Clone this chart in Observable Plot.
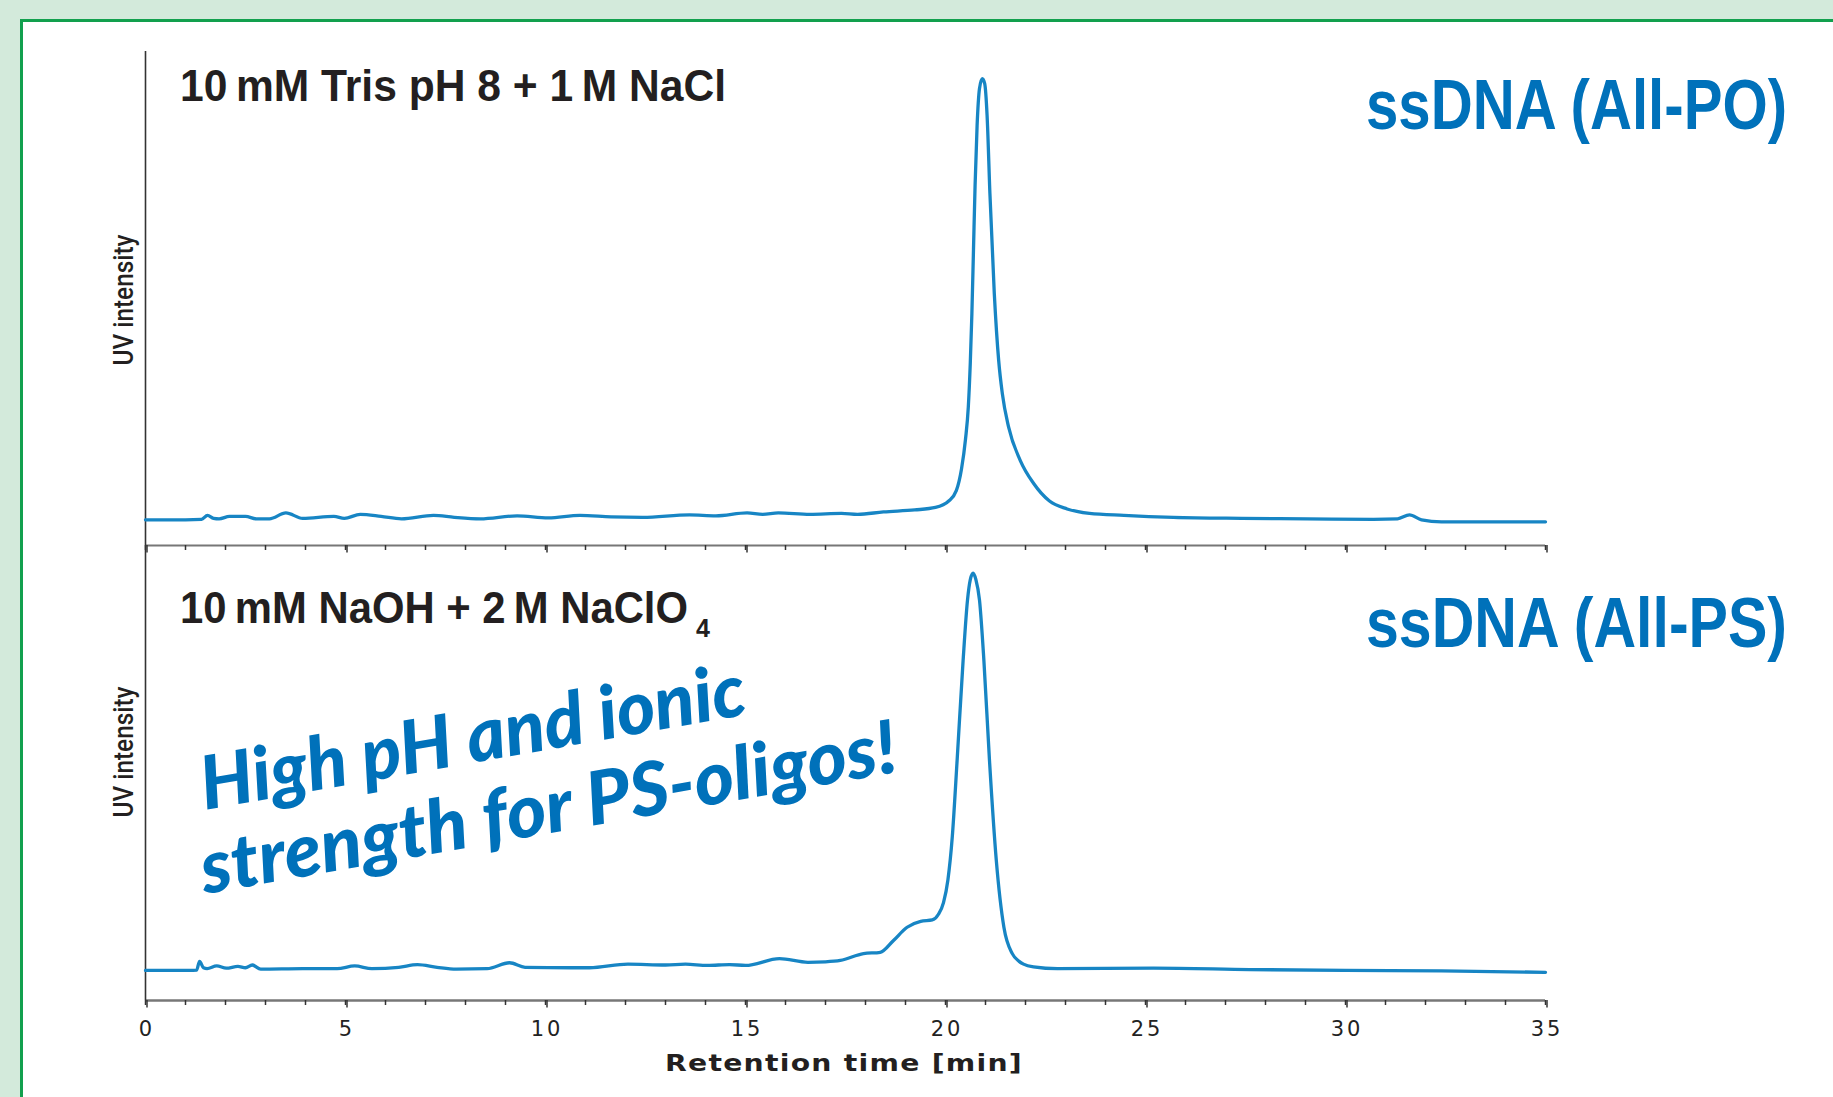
<!DOCTYPE html>
<html><head><meta charset="utf-8">
<script src="https://cdn.jsdelivr.net/npm/d3@7"></script>
<script src="https://cdn.jsdelivr.net/npm/@observablehq/plot@0.6"></script>
<style>
html,body{margin:0;padding:0;background:#d3eadb;}
#page{position:relative;width:1833px;height:1097px;overflow:hidden;background:#d3eadb;}
#panel{position:absolute;left:20px;top:19px;width:1850px;height:1120px;background:#fff;border:3px solid #12a04e;box-sizing:border-box;}
.layer{position:absolute;left:0;top:0;}
g[aria-label="x-axis tick label"] text{letter-spacing:3px;}
</style></head><body>
<div id="page"><div id="panel"></div></div>
<script>
// ---- data (retention time in min, UV signal in arbitrary units) ----
const topTime = [0, 1.0, 1.4, 1.55, 1.7, 1.84, 2.1, 2.5, 2.77, 3.1, 3.51, 3.93, 4.71, 4.97, 5.37, 5.89, 6.4, 7.2, 7.72, 8.37, 9.29, 10.07, 10.86, 11.64, 12.43, 13.6, 14.26, 15.04, 15.43, 15.82, 16.61, 17.4, 17.8, 18.45, 19.23, 19.75, 20.08, 20.27, 20.4, 20.5, 20.57, 20.62, 20.66, 20.7, 20.74, 20.79, 20.85, 20.92, 20.98, 21.04, 21.11, 21.22, 21.33, 21.42, 21.58, 21.87, 22.2, 22.6, 23.04, 23.6, 24.46, 25.7, 27.4, 29.04, 30.7, 31.3, 31.6, 31.9, 32.4, 35];
const topSignal = [5.2, 5.2, 5.3, 6.1, 5.5, 5.4, 5.9, 5.9, 5.4, 5.4, 6.6, 5.5, 5.9, 5.5, 6.3, 5.9, 5.4, 6.1, 5.7, 5.4, 6.0, 5.6, 6.1, 5.8, 5.7, 6.2, 6.0, 6.6, 6.3, 6.6, 6.3, 6.5, 6.3, 6.8, 7.2, 7.7, 9.0, 11.1, 15.5, 21.5, 28, 37, 47, 60, 73, 85, 92.5, 94.5, 93.5, 87, 71.3, 51, 37.4, 30.8, 23.9, 17.2, 12.6, 9.0, 7.4, 6.5, 6.1, 5.7, 5.5, 5.4, 5.3, 5.4, 6.2, 5.2, 4.8, 4.8];

const bottomTime = [0, 1.1, 1.28, 1.35, 1.45, 1.54, 1.78, 2.02, 2.31, 2.5, 2.67, 2.88, 3.93, 4.79, 5.23, 5.66, 6.33, 6.8, 7.29, 7.77, 8.54, 9.1, 9.49, 10.64, 11.1, 12.06, 13.0, 13.5, 14.05, 14.6, 15.0, 15.85, 16.56, 17.0, 17.37, 17.95, 18.37, 18.7, 19.04, 19.38, 19.67, 19.82, 19.95, 20.06, 20.17, 20.29, 20.44, 20.55, 20.62, 20.69, 20.76, 20.85, 20.96, 21.1, 21.27, 21.46, 21.67, 21.84, 21.95, 22.2, 22.8, 25.2, 27.6, 30, 32.4, 35];
const bottomSignal = [6.6, 6.6, 6.7, 8.6, 7.2, 7.0, 7.6, 7.1, 7.5, 7.2, 7.8, 6.9, 7.0, 7.0, 7.6, 7.0, 7.3, 7.9, 7.3, 6.9, 7.0, 8.3, 7.3, 7.2, 7.2, 8.0, 7.8, 8.0, 7.7, 7.9, 7.7, 9.2, 8.4, 8.5, 8.8, 10.3, 10.6, 13.2, 16.1, 17.4, 17.7, 18.9, 21.5, 26.5, 36, 52.7, 74.7, 88, 92.5, 93.9, 92.5, 88, 74.7, 52.7, 30.8, 16.1, 10.3, 8.6, 8.0, 7.4, 7.0, 7.1, 6.8, 6.6, 6.5, 6.2];

const minorTicks = [0,1,2,3,4,5,6,7,8,9,10,11,12,13,14,15,16,17,18,19,20,21,22,23,24,25,26,27,28,29,30,31,32,33,34,35];
const majorTicks = [0,5,10,15,20,25,30,35];
const xLabel = "Retention time [min]";
const yLabel = "UV intensity";
const topTitle = "10\u2009mM Tris pH 8 + 1\u2009M NaCl";
const bottomTitle = "10\u2009mM NaOH + 2\u2009M NaClO";
const bottomTitleSub = "4";
const topTag = "ssDNA (All-PO)";
const bottomTag = "ssDNA (All-PS)";
const note = ["High pH and ionic", "strength for PS-oligos!"];

const LINE = "#1785c4";
const topData = topTime.map((t, i) => ({t, v: topSignal[i]}));
const bottomData = bottomTime.map((t, i) => ({t, v: bottomSignal[i]}));

function panel(data, opts) {
  return Plot.plot({
    width: 1833,
    height: opts.height,
    marginLeft: 145,
    marginRight: 288,
    marginTop: opts.marginTop,
    marginBottom: opts.marginBottom,
    style: {background: "transparent", overflow: "visible", fontFamily: "DejaVu Sans", color: "#222"},
    x: {domain: [0, 35]},
    y: {domain: [0, 100], axis: null},
    marks: [
      Plot.ruleY([0], {stroke: "#777", strokeWidth: opts.axisWidth}),
      Plot.ruleX([0], {stroke: "#333", strokeWidth: 1.6}),
      Plot.axisX({ticks: minorTicks, tickSize: 5, tickFormat: () => "", label: null, stroke: "#333", strokeWidth: 1.5}),
      Plot.axisX({ticks: majorTicks, tickSize: 7.5, stroke: "#333", strokeWidth: 1.5,
        tickFormat: opts.labels ? (d => String(d)) : (() => ""),
        tickPadding: 13, fontSize: 21, dx: 1.5, label: null}),
      Plot.line(data, {x: "t", y: "v", stroke: LINE, strokeWidth: 3.3, curve: "monotone-x"})
    ]
  });
}

const page = document.getElementById("page");
const topPlot = panel(topData, {height: 560, marginTop: 51, marginBottom: 15, axisWidth: 2, labels: false});
const bottomPlot = panel(bottomData, {height: 1097, marginTop: 545, marginBottom: 97, axisWidth: 2.6, labels: true});
topPlot.classList.add("layer");
bottomPlot.classList.add("layer");
page.appendChild(bottomPlot);
page.appendChild(topPlot);

// ---- annotation layer ----
const svg = d3.create("svg").attr("class", "layer").attr("width", 1833).attr("height", 1097)
  .style("overflow", "visible");
page.appendChild(svg.node());
function txt(s, x, y, o) {
  const t = svg.append("text").attr("x", x).attr("y", y).text(s)
    .attr("font-family", o.family || "Liberation Sans, Arial, sans-serif")
    .attr("font-size", o.size).attr("font-weight", o.weight || "normal")
    .attr("fill", o.fill || "#231f20");
  if (o.len) t.attr("textLength", o.len).attr("lengthAdjust", o.adjust || "spacingAndGlyphs");
  if (o.style) t.attr("font-style", o.style);
  if (o.transform) t.attr("transform", o.transform);
  if (o.anchor) t.attr("text-anchor", o.anchor);
  if (o.spacing) t.attr("letter-spacing", o.spacing);
  return t;
}
txt(topTitle, 180, 101, {size: 44, weight: "bold", len: 546});
// bottom title with chemical subscript in one text element
const bt = svg.append("text").attr("x", 180).attr("y", 623)
  .attr("font-family", "Liberation Sans, Arial, sans-serif").attr("font-weight", "bold")
  .attr("font-size", 44).attr("fill", "#231f20");
bt.append("tspan").attr("textLength", 508).attr("lengthAdjust", "spacingAndGlyphs").text(bottomTitle);
bt.append("tspan").attr("x", 696).attr("y", 637).attr("font-size", 25).text(bottomTitleSub);

const TAG_FONT = "Liberation Sans Narrow, Liberation Sans, Arial, sans-serif";
txt(topTag, 0, 0, {size: 52, weight: "bold", fill: "#0071ba", len: 421, family: TAG_FONT,
  transform: "translate(1366,129) scale(1,1.34)"});
txt(bottomTag, 0, 0, {size: 52, weight: "bold", fill: "#0071ba", len: 421, family: TAG_FONT,
  transform: "translate(1366,647) scale(1,1.34)"});
const YFONT = "Roboto, Liberation Sans, sans-serif";
txt(yLabel, 0, 0, {size: 27, weight: 500, len: 131, anchor: "middle", family: YFONT,
  transform: "translate(133,300) rotate(-90)"});
txt(yLabel, 0, 0, {size: 27, weight: 500, len: 131, anchor: "middle", family: YFONT,
  transform: "translate(133,752) rotate(-90)"});
txt(note[0], 0, 0, {size: 74, weight: 900, style: "italic", fill: "#0071ba", len: 552,
  family: "Lato, Noto Sans, sans-serif", transform: "translate(205,810) rotate(-10)"});
txt(note[1], 0, 0, {size: 74, weight: 900, style: "italic", fill: "#0071ba", len: 706,
  family: "Lato, Noto Sans, sans-serif", transform: "translate(205,894) rotate(-10)"});
txt(xLabel, 665, 1071, {size: 22.5, weight: "bold", len: 358, spacing: 1, family: "DejaVu Sans, sans-serif"});
</script>
</body></html>
